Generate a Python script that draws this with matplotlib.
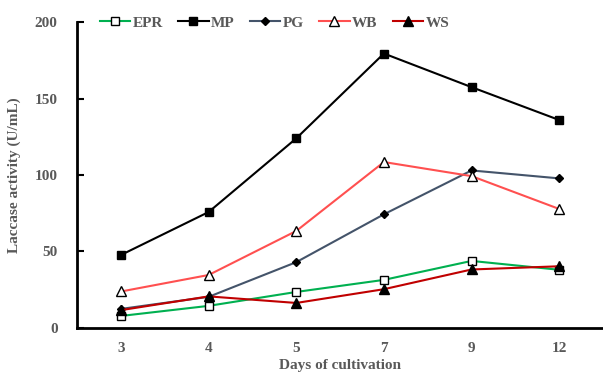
import numpy as np
import matplotlib.pyplot as plt

days = ['3', '4', '5', '7', '9', '12']
epr = [7.8, 14.4, 23.5, 31.4, 43.8, 38.0]
mp = [47.7, 75.8, 124.0, 179.5, 157.5, 136.0]
pg = [12.4, 20.3, 43.0, 74.3, 103.0, 97.8]
wb = [23.8, 34.6, 63.4, 108.5, 99.3, 77.8]
ws = [11.6, 20.6, 16.3, 25.3, 38.2, 40.3]

grey = '#595959'
plt.rcParams['font.family'] = 'Liberation Serif'
plt.rcParams['font.weight'] = 'bold'
plt.rcParams['axes.labelweight'] = 'bold'

fig = plt.figure(figsize=(6.03, 3.76), dpi=100)
ax = fig.add_axes([0.128, 0.128, 0.872, 0.813])
x = np.arange(len(days))

ax.plot(x, epr, '-s', color='#00B050', mfc='white', mec='black', ms=6, lw=1.5, label='EPR')
ax.plot(x, mp, '-s', color='black', ms=6, lw=1.5, label='MP')
ax.plot(x, pg, '-D', color='#44546A', mfc='black', mec='black', ms=4, lw=1.5, label='PG')
ax.plot(x, wb, '-^', color='#FF5050', mfc='white', mec='black', ms=7, lw=1.5, label='WB')
ax.plot(x, ws, '-^', color='#C00000', mfc='black', mec='black', ms=7, lw=1.5, label='WS')

ax.set_xlim(-0.5, 5.5)
ax.set_ylim(0, 200)
ax.set_yticks([0, 50, 100, 150, 200])
ax.set_xticks(x)
ax.set_xticklabels(days)
ax.tick_params(axis='y', direction='in', length=5, width=1.5, colors='black', labelcolor=grey, labelsize=11, pad=14)
ax.tick_params(axis='x', length=0, labelcolor=grey, labelsize=11, pad=10)
for s in ['top', 'right']:
    ax.spines[s].set_visible(False)
for s in ['left', 'bottom']:
    ax.spines[s].set_linewidth(2)

ax.set_xlabel('Days of cultivation', color=grey, fontsize=11, labelpad=3)
ax.set_ylabel('Laccase activity (U/mL)', color=grey, fontsize=11, labelpad=10)

leg = ax.legend(loc='upper center', bbox_to_anchor=(0.375, 1.065), ncol=5, frameon=False,
                fontsize=11, handlelength=2.0, handletextpad=0.15, columnspacing=1.0)
for t in leg.get_texts():
    t.set_color(grey)

fig.savefig('out.png', dpi=100)
